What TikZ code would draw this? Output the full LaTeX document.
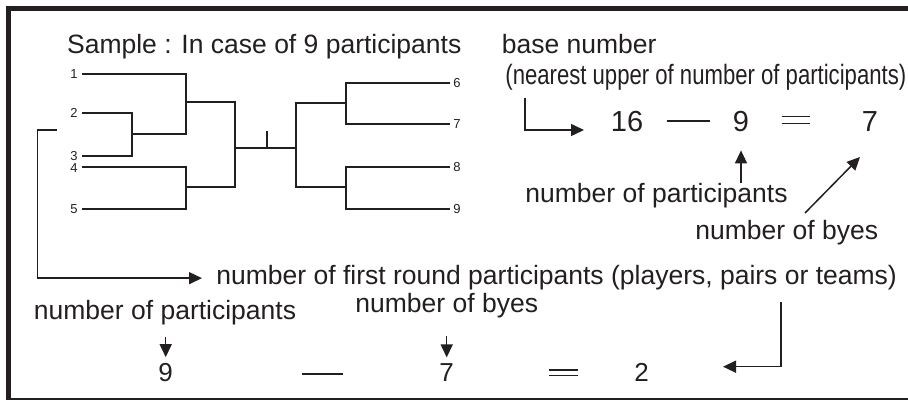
\documentclass[tikz,border=0pt]{standalone}
\usepackage{fontspec}
\setmainfont{Liberation Sans}
\newfontfamily\narrowfont[FakeStretch=0.79]{Liberation Sans}
\usetikzlibrary{arrows.meta}
\definecolor{ink}{HTML}{231F20}
\tikzset{
  txt/.style={inner sep=0pt,anchor=base west,font=\fontsize{13.25pt}{15pt}\selectfont},
  num/.style={inner sep=0pt,anchor=base,font=\fontsize{14.5pt}{16pt}\selectfont},
  bnum/.style={num,font=\fontsize{13pt}{15pt}\selectfont},
  pnum/.style={inner sep=0pt,font=\fontsize{6.5pt}{7pt}\selectfont},
  bracket/.style={line width=1pt},
  conn/.style={line width=0.75pt,-{Triangle[length=6.5pt,width=6pt]}},
  sign/.style={line width=0.75pt}
}

\begin{document}
\begin{tikzpicture}[x=0.5pt,y=-0.5pt,color=ink]
  \useasboundingbox (0,0) rectangle (908,400);
  \clip (0,0) rectangle (908,400);
  \draw[line width=2.5pt] (8,8.5) rectangle (920,400);

  % bracket
  \draw[bracket] (82,74) -| (186,134) -- (132,134);
  \draw[bracket] (82,113) -| (132,156) -- (82,156);
  \draw[bracket] (82,167) -| (186,209) -- (82,209);
  \draw[bracket] (186,102) -| (235,187) -- (186,187);
  \draw[bracket] (235,148) -- (296,148);
  \draw[bracket] (267,131) -- (267,148);
  \draw[bracket] (346,103) -| (296,187) -- (346,187);
  \draw[bracket] (450,83) -| (346,124) -- (450,124);
  \draw[bracket] (450,167) -| (346,209) -- (450,209);
  \foreach \n/\y in {1/74,2/113,3/156,4/168,5/209}
    \node[pnum,anchor=east] (p\n) at (78,\y) {\n};
  \foreach \n/\y in {6/83,7/124,8/167,9/209}
    \node[pnum,anchor=west] (p\n) at (453,\y) {\n};

  % top right
  \node[txt] (sample) at (66.7,53.3) {Sample : In case of 9 participants};
  \node[txt] (base) at (501.5,53.3) {base number};
  \node[txt,font=\narrowfont\fontsize{14pt}{16pt}\selectfont] (nearest) at (505,85)
    {(nearest upper of number of participants)};
  \node[num] (n16) at (627,131.7) {16};
  \node[num] (n9) at (741,131.7) {9};
  \node[num] (n7) at (870,131.7) {7};
  \draw[sign] (666.7,121) -- (710,121);
  \draw[sign] (781.7,116.7) -- (810,116.7) (781.7,123.3) -- (810,123.3);
  \node[txt] (npart) at (525,203) {number of participants};
  \node[txt] (nbyes) at (695,240) {number of byes};

  \coordinate (basetail) at (525,98);
  \coordinate (basetip) at (584,130);
  \draw[conn] (basetail) |- (basetip);
  \coordinate (parttail) at (741,183);
  \draw[conn,shorten >=9pt] (parttail) -- (n9.south);
  \coordinate (byetail) at (805,213);
  \coordinate (byetip) at (860,157);
  \draw[conn] (byetail) -- (byetip);

  % first round
  \node[txt] (first) at (216,285)
    {number of first round participants (players, pairs or teams)};
  \coordinate (roundtail) at (57,130);
  \coordinate (roundbend) at (37.3,130);
  \draw[conn,shorten >=7pt] (roundtail) -- (roundbend) |- (first.west);

  % bottom row
  \node[txt] (bpart) at (33.5,319) {number of participants};
  \node[txt] (bbyes) at (355,312) {number of byes};
  \node[bnum] (b9) at (165.7,381.7) {9};
  \node[bnum] (b7) at (446.7,381.7) {7};
  \node[bnum] (b2) at (641.7,381.7) {2};
  \draw[sign] (301.7,374) -- (342.7,374);
  \draw[sign] (549.3,370) -- (578.3,370) (549.3,375.3) -- (578.3,375.3);
  \coordinate (bparttail) at (165.7,336.7);
  \draw[conn,shorten >=3pt] (bparttail) -- (b9.north);
  \coordinate (bbyetail) at (446.7,336);
  \draw[conn,shorten >=3pt] (bbyetail) -- (b7.north);
  \coordinate (firsttail) at (781,302);
  \coordinate (firsttip) at (723,366.7);
  \draw[conn] (firsttail) |- (firsttip);
\end{tikzpicture}
\end{document}
